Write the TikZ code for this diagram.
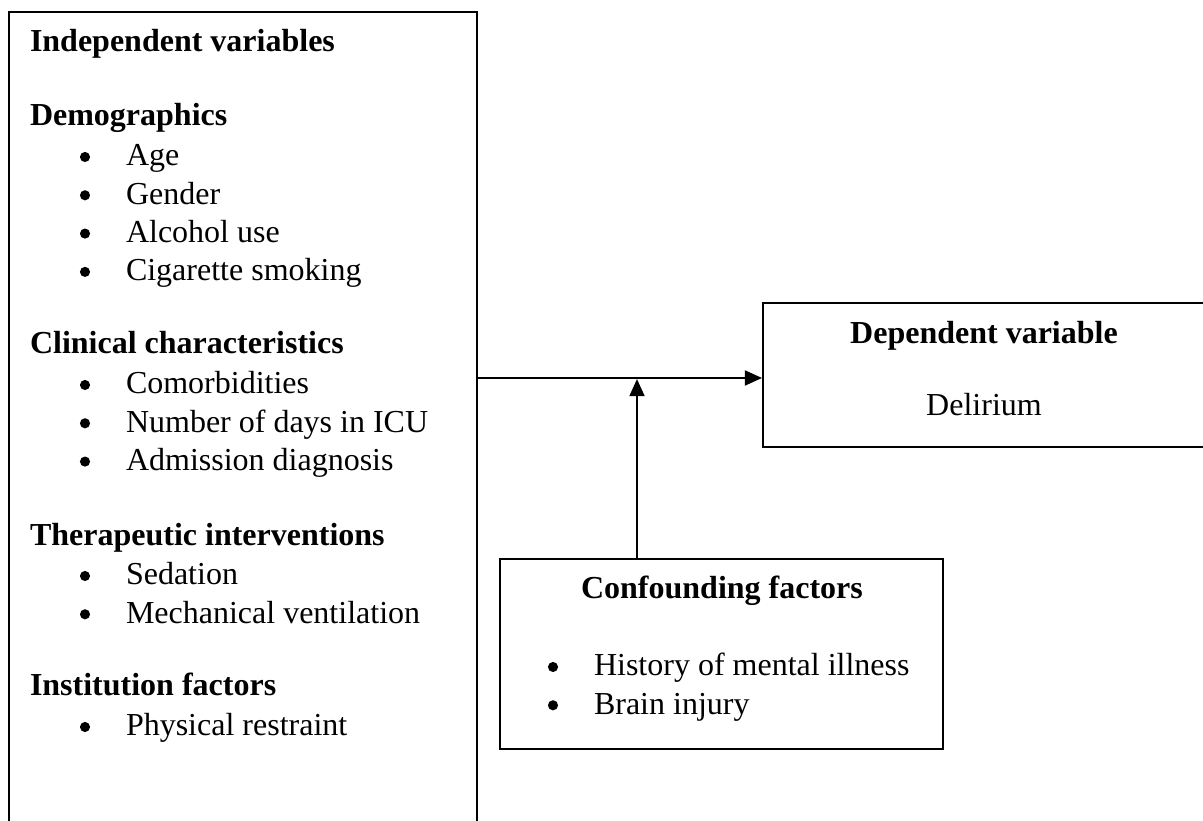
\documentclass[tikz,border=0pt]{standalone}
\usepackage{fontspec}
\setmainfont{Liberation Serif}
\usetikzlibrary{arrows.meta, positioning, fit}
\tikzset{
  every picture/.style={line width=0.75pt},
  box/.style={draw, inner sep=0pt},
  head/.style={font=\fontsize{12pt}{14.4pt}\selectfont\bfseries, inner sep=0pt},
  item/.style={font=\fontsize{12pt}{14.4pt}\selectfont, inner sep=0pt},
  dot/.style={circle, fill, inner sep=0pt, minimum size=3.8pt},
  arrow/.style={-{Triangle[length=6.4pt, width=5.6pt]}, line width=0.75pt},
}
\newcommand{\blist}[5]{
  \foreach \v [count=\i] in {#5} {
    \node[dot] (#1dot\i) at (#2,#4+38.3*\i-38.3-9) {};
    \node[item, anchor=base west] (#1\i) at (#3,#4+38.3*\i-38.3) {\v};
  }
}

\begin{document}
\begin{tikzpicture}[x=0.375pt, y=-0.375pt]
  \clip (0,0) rectangle (1203,821);
  % independent variables
  \node[box, fit={(9,12) (477,840)}] (indep) {};
  \node[head, anchor=base west] (ivar) at (29,52) {Independent variables};
  \node[head, anchor=base west] (demo) at (29,126) {Demographics};
  \blist{demo}{85}{125}{166}{Age, Gender, Alcohol use, Cigarette smoking}
  \node[head, anchor=base west] (clin) at (29,354) {Clinical characteristics};
  \blist{clin}{85}{125}{394}{Comorbidities, Number of days in ICU, Admission diagnosis}
  \node[head, anchor=base west] (ther) at (29,546) {Therapeutic interventions};
  \blist{ther}{85}{125}{585}{Sedation, Mechanical ventilation}
  \node[head, anchor=base west] (inst) at (29,696) {Institution factors};
  \blist{inst}{85}{125}{736}{Physical restraint}
  % dependent variable
  \node[box, fit={(763,303) (1206,447)}] (dep) {};
  \node[head, anchor=base] (dvar) at (984,344) {Dependent variable};
  \node[item, anchor=base] (deli) at (984,416) {Delirium};
  % confounding factors
  \node[box, fit={(500,559) (943,749)}] (conf) {};
  \node[head, anchor=base] (cvar) at (722,599) {Confounding factors};
  \blist{conf}{553}{593}{676}{History of mental illness, Brain injury}
  % arrows
  \coordinate (meet) at (637,378);
  \draw[arrow] (indep.east |- meet) -- (dep.west |- meet);
  \draw[arrow] (conf.north -| meet) -- ([yshift=-0.4pt]meet);
\end{tikzpicture}
\end{document}
